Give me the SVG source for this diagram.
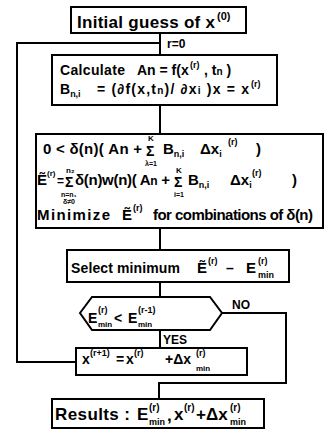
<svg xmlns="http://www.w3.org/2000/svg" width="326" height="433" viewBox="0 0 326 433">
<style>
text{font-family:"Liberation Sans",Arial,"DejaVu Sans",sans-serif;font-weight:bold;fill:#000}
.box{fill:#fff;stroke:#000;stroke-width:2}
.ln{fill:none;stroke:#000;stroke-width:2}
.t{font-size:14px}
.s{font-size:9px}
.xs{font-size:7px}
.lb{font-size:12px}
.sig{font-size:14px}
</style>
<rect width="326" height="433" fill="#fff"/>
<g id="connectors">
<line class="ln" x1="160" y1="33" x2="160" y2="55"/>
<polyline class="ln" points="76,362 17,362 17,43 160,43"/>
<line class="ln" x1="160" y1="105" x2="160" y2="134"/>
<line class="ln" x1="160" y1="228" x2="160" y2="250"/>
<line class="ln" x1="160" y1="282" x2="160" y2="297"/>
<line class="ln" x1="160" y1="330" x2="160" y2="348"/>
<polyline class="ln" points="222,313 286,313 286,383 159,383 159,399"/>
<text class="lb" x="167" y="48">r=0</text>
<text class="lb" x="232" y="309">NO</text>
<text class="lb" x="163" y="344">YES</text>
</g>
<g id="init">
<rect class="box" x="71" y="7" width="175" height="26"/>
<text x="77" y="28" font-size="17" textLength="138" lengthAdjust="spacing">Initial guess of x</text>
<text x="217" y="20" font-size="11">(0)</text>
</g>
<g id="calc">
<rect class="box" x="52" y="55" width="225" height="50"/>
<text class="t" x="60" y="75" textLength="65" lengthAdjust="spacing">Calculate</text>
<text class="t" x="137" y="75">An = f(x</text>
<text class="s" x="190" y="68">(r)</text>
<text class="t" x="204" y="75">,  t<tspan font-size="10">n</tspan> )</text>
<text class="t" x="60" y="94">B<tspan font-size="9" dy="3">n,i</tspan></text>
<text class="t" x="97" y="94" textLength="152" lengthAdjust="spacing">= (∂f(x,t<tspan font-size="10">n</tspan>)/ ∂x<tspan font-size="10">i</tspan> )x = x</text>
<text class="s" x="251" y="87">(r)</text>
</g>
<g id="minimize">
<rect class="box" x="36" y="134" width="287" height="94"/>
<text font-size="15" x="43" y="154" textLength="99" lengthAdjust="spacing">0 &lt; δ(n)( An +</text>
<text class="sig" x="146" y="156">Σ</text>
<text font-size="8" x="148" y="141">K</text>
<text class="xs" x="145" y="166">λ=1</text>
<text font-size="15" x="163" y="154">B<tspan font-size="9" dy="3">n,i</tspan></text>
<text font-size="15" x="200" y="154">Δx<tspan font-size="9" dy="3">i</tspan></text>
<text class="s" x="228" y="145">(r)</text>
<text font-size="15" x="256" y="154">)</text>
<text font-size="15" x="37" y="185">Ẽ</text>
<text font-size="8" x="47" y="176">(r)</text>
<text font-size="12" x="57" y="185">=</text>
<text class="sig" x="65" y="187">Σ</text>
<text font-size="8" x="66" y="173">n₂</text>
<text class="xs" x="61" y="197">n=n₁</text>
<text class="xs" x="63" y="204">δ≠0</text>
<text font-size="15" x="75" y="185" textLength="95" lengthAdjust="spacing">δ(n)w(n)( A<tspan font-size="12">n</tspan> +</text>
<text class="sig" x="174" y="187">Σ</text>
<text font-size="8" x="176" y="173">K</text>
<text class="xs" x="174" y="197">i=1</text>
<text font-size="15" x="188" y="185">B<tspan font-size="9" dy="3">n,i</tspan></text>
<text font-size="15" x="230" y="185">Δx<tspan font-size="9" dy="3">i</tspan></text>
<text class="s" x="252" y="176">(r)</text>
<text font-size="15" x="292" y="185">)</text>
<text font-size="15" x="37" y="220" textLength="73" lengthAdjust="spacing">Minimize</text>
<text font-size="15" x="122" y="220">Ẽ</text>
<text class="s" x="133" y="211">(r)</text>
<text font-size="15" x="153" y="220" textLength="160" lengthAdjust="spacing">for combinations of δ(n)</text>
</g>
<g id="select">
<rect class="box" x="67" y="250" width="222" height="32"/>
<text class="t" x="71" y="273" textLength="109" lengthAdjust="spacing">Select minimum</text>
<text font-size="15" x="197" y="273">Ẽ</text>
<text class="s" x="208" y="264">(r)</text>
<text class="t" x="226" y="273">–</text>
<text font-size="15" x="246" y="273">E</text>
<text class="s" x="258" y="264">(r)</text>
<text class="s" x="258" y="278">min</text>
</g>
<g id="decision">
<polygon class="box" points="80,313 92,297 210,297 222,313 210,330 92,330"/>
<text class="t" x="88" y="323">E</text>
<text class="s" x="98" y="313">(r)</text>
<text font-size="8" x="98" y="327">min</text>
<text class="t" x="114" y="323">&lt;</text>
<text class="t" x="128" y="323">E</text>
<text class="s" x="138" y="313">(r-1)</text>
<text font-size="8" x="138" y="327">min</text>
</g>
<g id="update">
<rect class="box" x="76" y="348" width="171" height="27"/>
<text class="t" x="82" y="364">x</text>
<text class="s" x="90" y="356">(r+1)</text>
<text class="t" x="116" y="364">=</text>
<text class="t" x="126" y="364">x</text>
<text class="s" x="134" y="356">(r)</text>
<text class="t" x="165" y="364">+Δx</text>
<text class="s" x="196" y="356">(r)</text>
<text font-size="8" x="196" y="371">min</text>
</g>
<g id="results">
<rect class="box" x="52" y="399" width="212" height="29"/>
<text font-size="17" x="55" y="420" textLength="75" lengthAdjust="spacing">Results :</text>
<text font-size="17" x="137" y="420">E</text>
<text font-size="10" x="149" y="411">(r)</text>
<text font-size="9" x="149" y="425">min</text>
<text font-size="17" x="167" y="421">,</text>
<text font-size="17" x="174" y="420">x</text>
<text font-size="10" x="184" y="411">(r)</text>
<text font-size="17" x="196" y="420">+Δx</text>
<text font-size="10" x="230" y="411">(r)</text>
<text font-size="9" x="230" y="425">min</text>
</g>
</svg>
